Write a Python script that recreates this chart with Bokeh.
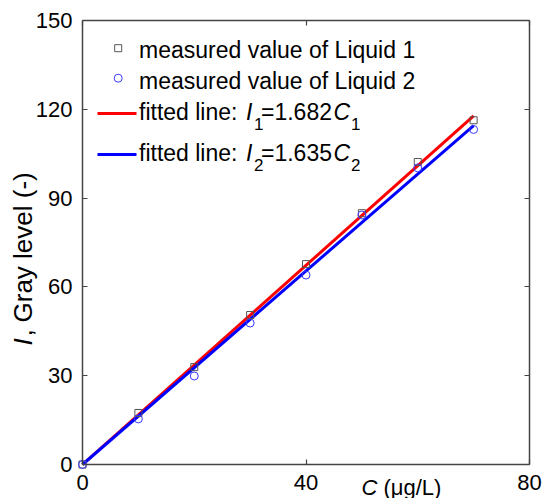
import math
from bokeh.plotting import figure
from bokeh.models import Label, LinearAxis, Range1d, FixedTicker
from bokeh.embed import file_html
from bokeh.resources import INLINE

# ---- data ----
conc = [0, 10, 20, 30, 40, 50, 60, 70]
liquid1 = [0, 17.4, 32.9, 50.5, 67.7, 84.9, 102.2, 116.3]
liquid2 = [0, 15.4, 29.9, 47.8, 64.0, 84.3, 100.2, 113.2]
slope1 = 1.682
slope2 = 1.635
fit_x = [0, 70]
x_ticks = [0, 40, 80]
y_ticks = [0, 30, 60, 90, 120, 150]
x_lim = (0, 80)
y_lim = (0, 150)

FONT = "Liberation Sans"
W, H = 544, 498
# page-pixel position of the axes box
L, R, T, B = 82, 15, 20, 34
FW, FH = W - L - R, H - T - B
XS = (x_lim[1] - x_lim[0]) / FW
YS = (y_lim[1] - y_lim[0]) / FH

# the frame spans the whole canvas; the axes sit at fixed data locations
p = figure(width=W, height=H,
           x_range=Range1d(x_lim[0] - L * XS, x_lim[1] + R * XS),
           y_range=Range1d(y_lim[0] - B * YS, y_lim[1] + T * YS),
           x_axis_location=None, y_axis_location=None,
           output_backend="svg", toolbar_location=None,
           min_border_left=0, min_border_right=0, min_border_top=0, min_border_bottom=0)
p.outline_line_color = None
p.background_fill_color = "white"
p.border_fill_color = "white"
p.grid.visible = False


def make_axis(ticks, loc, bounds, show_labels, standoff=0):
    ax = LinearAxis(fixed_location=loc, bounds=bounds)
    ax.ticker = FixedTicker(ticks=ticks)
    ax.axis_line_color = "#444444"
    ax.axis_line_width = 1.5
    ax.major_tick_line_color = "#444444"
    ax.major_tick_line_width = 1.2
    ax.major_tick_in = 5
    ax.major_tick_out = 0
    ax.minor_tick_line_color = None
    ax.major_label_text_font = FONT
    ax.major_label_text_color = "black"
    if show_labels:
        ax.major_label_text_font_size = "22px"
        ax.major_label_standoff = standoff
    else:
        ax.major_label_text_font_size = "0px"
        ax.major_label_standoff = 0
    return ax


p.add_layout(make_axis(x_ticks, y_lim[0], x_lim, True, 10), "below")
p.add_layout(make_axis(y_ticks, x_lim[0], y_lim, True, 10), "left")
p.add_layout(make_axis(x_ticks, y_lim[1], x_lim, False), "above")
p.add_layout(make_axis(y_ticks, x_lim[1], y_lim, False), "right")

# ---- fitted lines and measurements ----
fit1 = [slope1 * v for v in fit_x]
fit2 = [slope2 * v for v in fit_x]
p.line(fit_x, fit1, line_color="#ff0000", line_width=3)
p.line(fit_x, fit2, line_color="#0000ff", line_width=3)
p.scatter(conc, liquid1, marker="square", size=7, fill_color=None,
          line_color="#555555", line_width=1)
p.scatter(conc, liquid2, marker="circle", size=8, fill_color=None,
          line_color="#3a3aff", line_width=1)


# ---- helpers for placing layout items by page pixel ----
def xd(px):
    return (px - L) * XS + x_lim[0]


def yd(py):
    return (T + FH - py) * YS + y_lim[0]


def txt(s, px, py, size, italic=False, angle=0.0):
    shift = 0.3 * size
    if angle == 0:
        py -= shift
    else:
        px -= shift
    p.add_layout(Label(x=xd(px), y=yd(py), text=s, text_font=FONT,
                       text_font_size=f"{size}px",
                       text_font_style="italic" if italic else "normal",
                       text_color="black", text_baseline="alphabetic",
                       text_align="left", angle=angle))


# ---- legend ----
p.scatter([xd(117.7)], [yd(47.7)], marker="square", size=7, fill_color=None,
          line_color="#555555", line_width=1)
p.scatter([xd(117.7)], [yd(77.7)], marker="circle", size=8, fill_color=None,
          line_color="#3a3aff", line_width=1)
p.line([xd(97), xd(136)], [yd(113), yd(113)], line_color="#ff0000", line_width=3)
p.line([xd(97), xd(136)], [yd(154), yd(154)], line_color="#0000ff", line_width=3)

LS, SS = 23, 17
txt("measured value of Liquid 1", 138.5, 56.5, LS)
txt("measured value of Liquid 2", 138.5, 87, LS)
for base, idx, val in ((118.3, "1", "=1.682"), (159.3, "2", "=1.635")):
    txt("fitted line: ", 138.5, base, LS)
    txt("I", 245.5, base, LS, italic=True)
    txt(idx, 253.5, base + 10, SS)
    txt(val, 260.5, base, LS)
    txt("C", 333, base, LS, italic=True)
    txt(idx, 350.5, base + 10, SS)

# ---- axis titles ----
txt("C", 361, 494, 22, italic=True)
txt("(μg/L)", 383, 494, 22)
txt("I", 30, 345, 26, italic=True, angle=math.pi / 2)
txt(",", 30, 336, 26, angle=math.pi / 2)
txt("Gray level (-)", 30, 322, 26, angle=math.pi / 2)

open("out.html", "w").write(file_html(p, INLINE))
